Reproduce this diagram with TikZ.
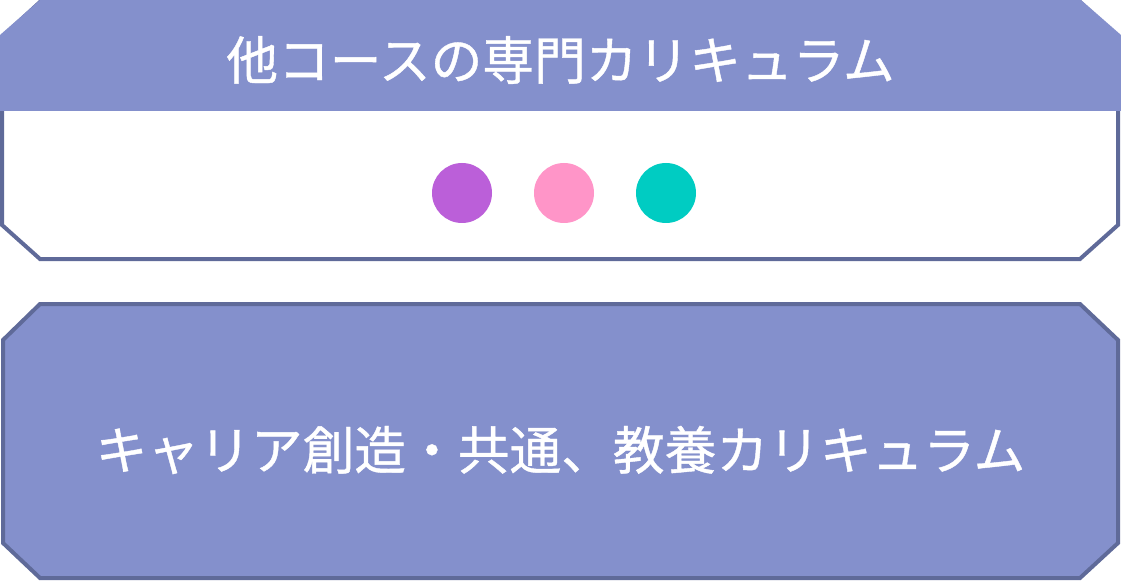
\documentclass[tikz,border=0pt]{standalone}
\usepackage{fontspec}
\newfontfamily\jpfont[FakeBold=0.8]{Noto Sans CJK JP}
\definecolor{fuji}{HTML}{8490CC}
\definecolor{kon}{HTML}{5F6A99}
\definecolor{murasaki}{HTML}{BB5FD9}
\definecolor{momo}{HTML}{FF95C8}
\definecolor{midori}{HTML}{00CCC2}

\begin{document}
\begin{tikzpicture}[x=0.75pt, y=-0.75pt,
    waku/.style={draw=kon, line width=3pt, line join=miter},
    moji/.style={text=white, font=\jpfont\fontsize{38.8}{42}\selectfont},
    maru/.style={circle, minimum size=45pt, inner sep=0pt}]
    \useasboundingbox (0, 0) rectangle (1121, 581);

    % upper block
    \draw[waku, fill=white] (2, 37) -- (40, 2) -- (1080, 2) -- (1118, 37) -- (1118, 225) -- (1080, 259) -- (40, 259) -- (2, 225) -- cycle;
    \fill[fuji] (0, 35) -- (40, 0) -- (1081, 0) -- (1121, 35) -- (1121, 111) -- (0, 111) -- cycle;
    \node[moji] (senmon) at (560.5, 60) {他コースの専門カリキュラム};

    \node[maru, fill=murasaki] (maru1) at (462, 193) {};
    \node[maru, fill=momo] (maru2) at (564, 193) {};
    \node[maru, fill=midori] (maru3) at (666, 193) {};

    % lower block
    \draw[waku, fill=fuji] (3, 340) -- (40, 304) -- (1080, 304) -- (1118, 340) -- (1118, 543) -- (1080, 578) -- (40, 578) -- (3, 543) -- cycle;
    \node[moji] (kyoyo) at (560.5, 450) {キャリア創造・共通、教養カリキュラム};

\end{tikzpicture}
\end{document}
